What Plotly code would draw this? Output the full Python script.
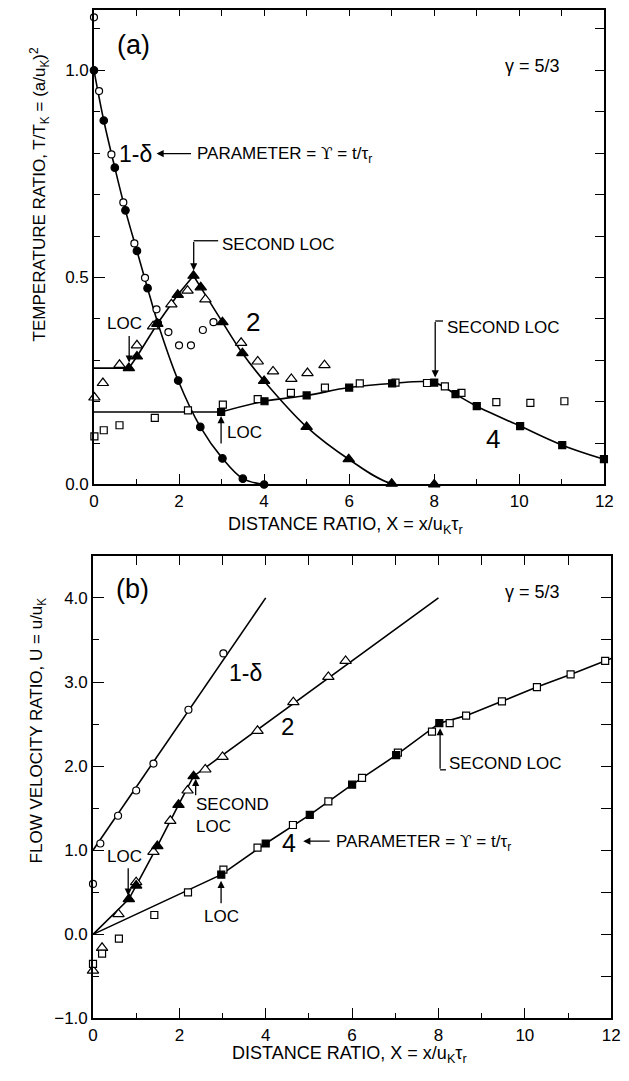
import plotly.graph_objects as go

W, H = 629, 1081

# ---------------- Panel (a): temperature ratio ----------------
a_circ_filled_x = [0, 0.23, 0.49, 0.74, 1.01, 1.26, 1.5, 1.98, 2.5, 3.02, 3.5, 4.0]
a_circ_filled_y = [1.0, 0.879, 0.765, 0.662, 0.564, 0.474, 0.39, 0.251, 0.139, 0.063, 0.014, 0.0]
a_circ_open_x = [0, 0.12, 0.41, 0.69, 0.95, 1.2, 1.47, 1.75, 2.0, 2.28, 2.56, 2.81]
a_circ_open_y = [1.128, 0.95, 0.797, 0.681, 0.582, 0.499, 0.423, 0.368, 0.336, 0.336, 0.373, 0.392]

a_tri_filled_x = [0.82, 1.01, 1.49, 1.97, 2.34, 2.51, 3.02, 3.49, 4.0, 5.0, 5.99, 7.0, 8.0]
a_tri_filled_y = [0.281, 0.309, 0.388, 0.458, 0.504, 0.476, 0.392, 0.317, 0.25, 0.139, 0.061, 0.002, 0.0]
a_tri_open_x = [0.01, 0.21, 0.6, 1.01, 1.39, 1.82, 2.2, 2.62, 3.46, 3.85, 4.21, 4.64, 5.02, 5.42]
a_tri_open_y = [0.21, 0.245, 0.289, 0.336, 0.382, 0.435, 0.468, 0.447, 0.342, 0.297, 0.273, 0.255, 0.269, 0.288]

a_sq_filled_x = [2.99, 4.01, 5.0, 6.0, 7.01, 8.0, 8.5, 9.0, 10.02, 11.01, 11.99]
a_sq_filled_y = [0.175, 0.201, 0.215, 0.234, 0.244, 0.246, 0.218, 0.189, 0.141, 0.095, 0.061]
a_sq_open_x = [0.01, 0.23, 0.6, 1.43, 2.21, 3.03, 3.85, 4.63, 5.43, 6.25, 7.09, 7.83, 8.25, 8.64, 9.46, 10.26, 11.06]
a_sq_open_y = [0.116, 0.131, 0.143, 0.161, 0.179, 0.193, 0.206, 0.221, 0.234, 0.244, 0.246, 0.245, 0.237, 0.221, 0.199, 0.197, 0.201]

# ---------------- Panel (b): flow velocity ratio ----------------
b_circ_x = [0, 0.17, 0.58, 1.0, 1.40, 2.21, 3.02]
b_circ_y = [0.60, 1.08, 1.41, 1.71, 2.03, 2.67, 3.34]
b_line1_x = [0, 4.0]
b_line1_y = [1.0, 4.0]

b_tri_open_x = [0, 0.21, 0.59, 1.0, 1.40, 1.79, 2.19, 2.6, 3.0, 3.81, 4.64, 5.45, 5.85]
b_tri_open_y = [-0.43, -0.16, 0.24, 0.62, 0.98, 1.35, 1.71, 1.96, 2.11, 2.42, 2.76, 3.06, 3.25]
b_tri_filled_x = [0.83, 1.0, 1.49, 1.98, 2.33]
b_tri_filled_y = [0.42, 0.58, 1.05, 1.54, 1.88]
b_line2_x = [0, 0.83, 1.0, 1.49, 1.98, 2.33, 8.0]
b_line2_y = [0, 0.42, 0.58, 1.05, 1.54, 1.88, 4.0]

b_sq_open_x = [0, 0.21, 0.6, 1.42, 2.2, 3.02, 3.81, 4.63, 5.45, 6.23, 7.06, 7.85, 8.26, 8.64, 9.47, 10.28, 11.06, 11.86]
b_sq_open_y = [-0.35, -0.23, -0.05, 0.23, 0.50, 0.77, 1.03, 1.30, 1.58, 1.86, 2.16, 2.41, 2.51, 2.60, 2.77, 2.94, 3.09, 3.25]
b_sq_filled_x = [2.97, 4.0, 5.02, 6.0, 7.02, 8.02]
b_sq_filled_y = [0.71, 1.08, 1.42, 1.78, 2.13, 2.51]
b_line4_x = [0, 2.97, 4.0, 5.02, 6.0, 7.02, 8.02, 8.64, 9.47, 10.28, 11.06, 12.0]
b_line4_y = [0, 0.71, 1.08, 1.42, 1.78, 2.13, 2.51, 2.60, 2.77, 2.94, 3.09, 3.28]

x_ticks = [0, 2, 4, 6, 8, 10, 12]

FONT = "Liberation Sans, Arial, sans-serif"
BLACK = "black"


def P(px, py):
    return px / W, 1 - py / H


def line_tr(x, y, xa, ya, shape="linear"):
    return go.Scatter(x=x, y=y, mode="lines", xaxis=xa, yaxis=ya,
                      line=dict(color=BLACK, width=1.6, shape=shape, smoothing=1.0),
                      showlegend=False, hoverinfo="skip", cliponaxis=False)


def mark_tr(x, y, symbol, filled, size, xa, ya):
    return go.Scatter(x=x, y=y, mode="markers", xaxis=xa, yaxis=ya,
                      marker=dict(symbol=symbol, size=size,
                                  color=BLACK if filled else "white",
                                  line=dict(color=BLACK, width=1.2)),
                      showlegend=False, cliponaxis=False)


fig = go.Figure()

# Panel (a) lines
fig.add_trace(line_tr(a_circ_filled_x, a_circ_filled_y, "x", "y", "spline"))
k = a_tri_filled_y.index(max(a_tri_filled_y))
fig.add_trace(line_tr([0] + a_tri_filled_x[:k + 1], [a_tri_filled_y[0]] + a_tri_filled_y[:k + 1], "x", "y"))
fig.add_trace(line_tr(a_tri_filled_x[k:], a_tri_filled_y[k:], "x", "y", "spline"))
fig.add_trace(line_tr([0, a_sq_filled_x[0]], [a_sq_filled_y[0], a_sq_filled_y[0]], "x", "y"))
fig.add_trace(line_tr(a_sq_filled_x, a_sq_filled_y, "x", "y", "spline"))

# Panel (a) markers
fig.add_trace(mark_tr(a_circ_open_x, a_circ_open_y, "circle", False, 7, "x", "y"))
fig.add_trace(mark_tr(a_circ_filled_x, a_circ_filled_y, "circle", True, 7.5, "x", "y"))
fig.add_trace(mark_tr(a_tri_open_x, a_tri_open_y, "triangle-up", False, 10, "x", "y"))
fig.add_trace(mark_tr(a_tri_filled_x, a_tri_filled_y, "triangle-up", True, 10, "x", "y"))
fig.add_trace(mark_tr(a_sq_open_x, a_sq_open_y, "square", False, 7, "x", "y"))
fig.add_trace(mark_tr(a_sq_filled_x, a_sq_filled_y, "square", True, 7, "x", "y"))

# Panel (b) lines
fig.add_trace(line_tr(b_line1_x, b_line1_y, "x2", "y2"))
fig.add_trace(line_tr(b_line2_x, b_line2_y, "x2", "y2"))
fig.add_trace(line_tr(b_line4_x, b_line4_y, "x2", "y2"))

# Panel (b) markers
fig.add_trace(mark_tr(b_circ_x, b_circ_y, "circle", False, 7, "x2", "y2"))
fig.add_trace(mark_tr(b_tri_open_x, b_tri_open_y, "triangle-up", False, 10, "x2", "y2"))
fig.add_trace(mark_tr(b_tri_filled_x, b_tri_filled_y, "triangle-up", True, 10, "x2", "y2"))
fig.add_trace(mark_tr(b_sq_open_x, b_sq_open_y, "square", False, 7, "x2", "y2"))
fig.add_trace(mark_tr(b_sq_filled_x, b_sq_filled_y, "square", True, 7, "x2", "y2"))

# empty traces so the mirrored (top / right) tick axes are drawn
fig.add_trace(go.Scatter(x=[], y=[], xaxis="x3", yaxis="y3", showlegend=False))
fig.add_trace(go.Scatter(x=[], y=[], xaxis="x4", yaxis="y4", showlegend=False))

base = dict(showline=True, linecolor=BLACK, linewidth=1.6, mirror=True,
            ticks="inside", ticklen=11, tickwidth=1.3, tickcolor=BLACK,
            showgrid=False, zeroline=False,
            tickfont=dict(family=FONT, size=17, color=BLACK))


def minor(d):
    return dict(dtick=d, tick0=0, ticks="inside", ticklen=6, tickwidth=1.3,
                tickcolor=BLACK, showgrid=False)


xa_dom = [91 / W, 613 / W]
ya_dom = [1 - 489 / H, 1 - 10 / H]
xb_dom = [90 / W, 620 / W]
yb_dom = [1 - 1028 / H, 1 - 561 / H]

fig.update_layout(
    width=W, height=H,
    margin=dict(l=0, r=0, t=0, b=0),
    paper_bgcolor="white", plot_bgcolor="white",
    font=dict(family=FONT, color=BLACK),
    xaxis=dict(domain=xa_dom, anchor="y", range=[0, 12],
               tickvals=x_ticks, ticktext=[str(v) for v in x_ticks],
               minor=minor(1), **base),
    yaxis=dict(domain=ya_dom, anchor="x", range=[0, 1.146],
               dtick=0.5, tick0=0, tickformat=".1f", minor=minor(0.1), **base),
    xaxis2=dict(domain=xb_dom, anchor="y2", range=[0, 12],
                tickvals=x_ticks, ticktext=[str(v) for v in x_ticks],
                minor=minor(1), **base),
    yaxis2=dict(domain=yb_dom, anchor="x2", range=[-1, 4.5],
                dtick=1, tick0=0, tickformat=".1f", minor=minor(0.5), **base),
    xaxis3=dict(domain=xa_dom, overlaying="x", side="top", anchor="y3", range=[0, 12],
                dtick=1, tick0=0, showticklabels=False, **{**base, "ticklen": 6}),
    yaxis3=dict(domain=ya_dom, overlaying="y", side="right", anchor="x3", range=[0, 1.146],
                dtick=0.1, tick0=0, showticklabels=False, **{**base, "ticklen": 10}),
    xaxis4=dict(domain=xb_dom, overlaying="x2", side="top", anchor="y4", range=[0, 12],
                dtick=1, tick0=0, showticklabels=False, **{**base, "ticklen": 9}),
    yaxis4=dict(domain=yb_dom, overlaying="y2", side="right", anchor="x4", range=[-1, 4.5],
                dtick=0.5, tick0=0, showticklabels=False, **{**base, "ticklen": 10}),
)

ann = []
shapes = []


def text(px, py, s, size=17, xanchor="center", angle=0, align="center"):
    x, y = P(px, py)
    ann.append(dict(x=x, y=y, xref="paper", yref="paper", text=s, showarrow=False,
                    xanchor=xanchor, yanchor="middle", textangle=angle, align=align,
                    font=dict(family=FONT, size=size, color=BLACK)))


def arrow(tip_px, tip_py, tail_px, tail_py):
    x, y = P(tip_px, tip_py)
    ann.append(dict(x=x, y=y, xref="paper", yref="paper", text="", showarrow=True,
                    ax=tail_px - tip_px, ay=tail_py - tip_py, axref="pixel", ayref="pixel",
                    arrowhead=2, arrowsize=1.1, arrowwidth=1.3, arrowcolor=BLACK, standoff=0))


def seg(px0, py0, px1, py1):
    x0, y0 = P(px0, py0)
    x1, y1 = P(px1, py1)
    shapes.append(dict(type="line", xref="paper", yref="paper", x0=x0, y0=y0, x1=x1, y1=y1,
                       line=dict(color=BLACK, width=1.3)))


UPS = "<span style=\"font-family:'DejaVu Serif'\">ϒ</span>"
XT = "DISTANCE RATIO, X = x/u<sub>K</sub>τ<sub>r</sub>"
PARAM = "PARAMETER = " + UPS + " = t/τ<sub>r</sub>"

# Panel (a) texts
text(131, 45, "(a)", 27)
text(540, 67, "γ = 5/3", 18)
text(133, 155, "1-δ", 23)
arrow(155, 155, 191, 155)
text(194, 156, PARAM, 17, xanchor="left")
text(220, 247, "SECOND LOC", 17, xanchor="left")
seg(193, 243, 218, 243)
arrow(193, 273, 193, 243)
text(122, 327, "LOC", 17)
arrow(127, 366, 127, 338)
text(254, 325, "2", 26)
text(225, 437, "LOC", 17, xanchor="left")
arrow(221, 420, 221, 449)
text(450, 331, "SECOND LOC", 17, xanchor="left")
seg(440, 324, 448, 324)
arrow(440, 381, 440, 324)
text(499, 443, "4", 26)
text(348, 530, XT, 18)
text(35, 196, "TEMPERATURE RATIO, T/T<sub>K</sub> = (a/u<sub>K</sub>)<sup>2</sup>", 17, angle=-90)

# Panel (b) texts
text(130, 594, "(b)", 27)
text(540, 598, "γ = 5/3", 18)
text(246, 679, "1-δ", 23)
text(289, 733, "2", 24)
text(193, 823, "SECOND<br>LOC", 17, xanchor="left", align="left")
arrow(195, 786, 195, 804)
text(122, 865, "LOC", 17)
arrow(126, 904, 126, 875)
text(221, 925, "LOC", 17)
arrow(221, 889, 221, 913)
text(290, 851, "4", 25)
arrow(305, 849, 333, 849)
text(337, 850, PARAM, 17, xanchor="left")
text(452, 771, "SECOND LOC", 17, xanchor="left")
seg(445, 777, 451, 777)
arrow(445, 735, 445, 777)
text(352, 1064, XT, 18)
text(34, 737, "FLOW VELOCITY RATIO, U = u/u<sub>K</sub>", 17, angle=-90)

fig.update_layout(annotations=ann, shapes=shapes)

fig.write_html("out.html")
